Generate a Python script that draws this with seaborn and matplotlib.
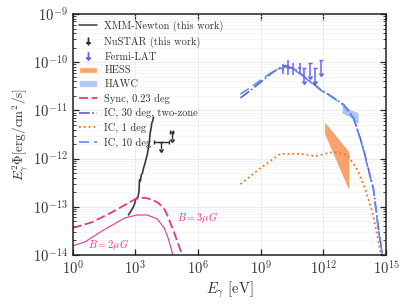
import numpy as np
import matplotlib
matplotlib.use("Agg")
import matplotlib.pyplot as plt
from matplotlib.lines import Line2D
from matplotlib.patches import Patch
import seaborn as sns

# ── data (log10 of energy in eV, log10 of flux in erg/cm2/s) ──
xmm_logE = [2.67, 2.80, 2.91, 2.97, 3.02, 3.12, 3.16, 3.18, 3.19, 3.20, 3.24, 3.28, 3.34, 3.39, 3.45, 3.50, 3.57, 3.63, 3.67, 3.71, 3.75, 3.79, 3.83, 3.87]
xmm_logF = [-13.17, -13.08, -13.00, -12.93, -12.84, -12.80, -12.72, -12.65, -12.50, -12.44, -12.47, -12.34, -12.30, -12.20, -12.12, -12.03, -11.92, -11.76, -11.65, -11.47, -11.38, -11.26, -11.22, -11.14]

nustar_logE = [4.22, 4.75]
nustar_logF = [-11.66, -11.45]
nustar_xlo = [3.87, 4.68]
nustar_xhi = [4.59, 4.82]

fermi_logE = [10.07, 10.33, 10.57, 10.86]
fermi_logF = [-10.14, -10.11, -10.14, -10.12]
fermi_err = [0.10, 0.16, 0.13, 0.11]
fermi_ul_logE = [11.09, 11.38, 11.62, 11.89]
fermi_ul_logF = [-10.12, -10.02, -10.12, -9.95]

hess_logE = [12.07, 13.20]
hess_lo = [-11.47, -12.61]
hess_hi = [-11.26, -11.86]

hawc_logE = [12.92, 13.26, 13.64]
hawc_lo = [-11.05, -11.12, -11.26]
hawc_hi = [-10.85, -10.99, -11.05]

sync3_logE = [0.0, 0.93, 1.89, 2.51, 2.99, 3.42, 3.80, 4.13, 4.42, 4.62, 4.86, 5.10, 5.29]
sync3_logF = [-13.44, -13.32, -13.11, -12.96, -12.84, -12.81, -12.85, -12.93, -13.07, -13.27, -13.54, -13.83, -14.06]

sync2_logE = [0.0, 0.59, 1.26, 1.89, 2.51, 3.08, 3.56, 4.04, 4.38, 4.57, 4.76, 4.81]
sync2_logF = [-13.81, -13.73, -13.54, -13.38, -13.23, -13.17, -13.17, -13.25, -13.44, -13.65, -13.94, -14.06]

ic10_logE = [8.03, 8.50, 8.98, 9.46, 9.85, 10.18, 10.66, 11.14, 11.62, 11.87, 12.40, 12.97, 13.44, 13.68, 13.92, 14.16, 14.40, 14.64, 14.79, 14.86]
ic10_logF = [-10.66, -10.53, -10.38, -10.23, -10.14, -10.10, -10.17, -10.33, -10.49, -10.58, -10.72, -10.89, -11.16, -11.47, -11.82, -12.24, -12.65, -13.48, -13.90, -14.15]

ic30_logE = [8.03, 8.50, 8.98, 9.46, 9.85, 10.18, 10.66, 11.14, 11.62, 11.87, 12.40, 12.97, 13.44, 13.68, 13.92, 14.16, 14.40, 14.64, 14.79, 14.86]
ic30_logF = [-10.74, -10.59, -10.42, -10.25, -10.13, -10.07, -10.15, -10.32, -10.48, -10.57, -10.71, -10.88, -11.15, -11.46, -11.80, -12.22, -12.63, -13.46, -13.88, -14.15]

ic1_logE = [8.03, 8.98, 9.94, 10.90, 11.62, 12.48, 13.16, 13.64, 14.02, 14.36, 14.60, 14.74, 14.83]
ic1_logF = [-12.53, -12.20, -11.90, -11.90, -11.95, -11.86, -11.93, -12.24, -12.65, -13.13, -13.63, -13.96, -14.20]

x_ticks = [1e0, 1e3, 1e6, 1e9, 1e12, 1e15]
y_ticks = [1e-14, 1e-13, 1e-12, 1e-11, 1e-10, 1e-9]

# ── style ──
sns.set_style("ticks")
plt.rcParams['font.family'] = ['cmr10', 'DejaVu Serif']
plt.rcParams['mathtext.fontset'] = 'cm'
plt.rcParams['axes.formatter.use_mathtext'] = True
plt.rcParams['axes.unicode_minus'] = False

c_sync = '#e6358b'
c_ic30 = '#6655e0'
c_ic10 = '#5b8ff0'
c_ic1 = '#f2711c'
c_fermi = '#7060ec'
c_xmm = '#3a3a45'
c_nu = '#2b2b35'
c_hess = '#f98c4a'
c_hawc = '#8fb0f0'
c_text = '#333333'

fig = plt.figure(figsize=(4.07, 3.05), dpi=100)
ax = fig.add_axes([0.1786, 0.164, 0.7698, 0.790])
ax.set_xscale('log')
ax.set_yscale('log')

p = lambda v: 10 ** np.array(v)

sns.lineplot(x=p(xmm_logE), y=p(xmm_logF), ax=ax, color=c_xmm, lw=1.2, sort=False)

ny = p(nustar_logF)
nx = p(nustar_logE)
ax.errorbar(nx, ny, yerr=ny * (1 - 10 ** -0.14),
            xerr=[nx - p(nustar_xlo), p(nustar_xhi) - nx],
            uplims=True, fmt='none', ecolor=c_nu, elinewidth=1.0, capsize=1.6)

fy = p(fermi_logF)
fx = p(fermi_logE)
ferr = np.array(fermi_err)
ax.errorbar(fx, fy, yerr=[fy * (1 - 10 ** -ferr), fy * (10 ** ferr - 1)],
            xerr=[fx * (1 - 10 ** -0.07), fx * (10 ** 0.07 - 1)],
            fmt='none', ecolor=c_fermi, elinewidth=1.1, capsize=0)
uy = p(fermi_ul_logF)
ax.errorbar(p(fermi_ul_logE), uy, yerr=uy * (1 - 10 ** -0.27), uplims=True,
            fmt='none', ecolor=c_fermi, elinewidth=1.1, capsize=1.6)

ax.fill_between(p(hess_logE), p(hess_lo), p(hess_hi), color=c_hess, alpha=0.8, lw=0.5)
ax.fill_between(p(hawc_logE), p(hawc_lo), p(hawc_hi), color=c_hawc, alpha=0.7, lw=0.5)

sns.lineplot(x=p(sync3_logE), y=p(sync3_logF), ax=ax, color=c_sync, lw=1.3,
             linestyle=(0, (5, 2)))
sns.lineplot(x=p(sync2_logE), y=p(sync2_logF), ax=ax, color=c_sync, lw=0.8)
sns.lineplot(x=p(ic30_logE), y=p(ic30_logF), ax=ax, color=c_ic30, lw=1.2,
             linestyle='-.')
sns.lineplot(x=p(ic1_logE), y=p(ic1_logF), ax=ax, color=c_ic1, lw=1.3,
             linestyle=':')
sns.lineplot(x=p(ic10_logE), y=p(ic10_logF), ax=ax, color=c_ic10, lw=1.2,
             linestyle=(0, (6, 3)))

ax.text(10 ** 5.0, 10 ** -13.23, r'$B = 3\mu G$', color=c_sync, fontsize=7.5,
        va='center', ha='left')
ax.text(10 ** 0.72, 10 ** -13.79, r'$B = 2\mu G$', color=c_sync, fontsize=7.5,
        va='center', ha='left')

ax.set_xlim(1e0, 1e15)
ax.set_ylim(1e-14, 1e-9)
ax.set_xticks(x_ticks)
ax.set_yticks(y_ticks)
ax.xaxis.set_minor_locator(matplotlib.ticker.NullLocator())
ax.yaxis.set_minor_locator(matplotlib.ticker.LogLocator(base=10.0, subs=np.arange(2, 10), numticks=20))
ax.yaxis.set_minor_formatter(matplotlib.ticker.NullFormatter())
ax.tick_params(which='both', direction='in', top=True, right=True, colors='#222222',
               labelcolor=c_text, labelsize=10.5)
ax.tick_params(which='major', length=4.5, width=0.9)
ax.tick_params(which='minor', length=2.2, width=0.6)
ax.grid(which='major', color='#e6e6e6', lw=0.5)
ax.grid(which='minor', axis='y', color='#f0f0f0', lw=0.4)
for s in ax.spines.values():
    s.set_linewidth(1.1)
    s.set_color('#222222')

ax.set_xlabel(r'$E_\gamma$ [eV]', fontsize=10.5, color=c_text, labelpad=1)
ax.set_ylabel(r'$E_\gamma^2\Phi[\mathrm{erg/cm^2/s}]$', fontsize=9.5, color=c_text, labelpad=1)

handles = [
    Line2D([], [], color=c_xmm, lw=1.1),
    Line2D([], [], color=c_nu, ls='none', marker=r'$\downarrow$', markersize=5),
    Line2D([], [], color=c_fermi, ls='none', marker=r'$\downarrow$', markersize=5.5),
    Patch(facecolor=c_hess, alpha=0.8),
    Patch(facecolor=c_hawc, alpha=0.7),
    Line2D([], [], color=c_sync, lw=1.3, ls=(0, (5, 2))),
    Line2D([], [], color=c_ic30, lw=1.2, ls='-.'),
    Line2D([], [], color=c_ic1, lw=1.3, ls=':'),
    Line2D([], [], color=c_ic10, lw=1.2, ls=(0, (6, 3))),
]
labels = ['XMM-Newton (this work)', 'NuSTAR (this work)', 'Fermi-LAT', 'HESS', 'HAWC',
          'Sync, 0.23 deg', 'IC, 30 deg, two-zone', 'IC, 1 deg', 'IC, 10 deg']
leg = ax.legend(handles, labels, loc='upper left', frameon=False, fontsize=7.5,
                handlelength=1.7, handleheight=0.6, labelspacing=0.42,
                borderaxespad=0.25, handletextpad=0.7)
for t in leg.get_texts():
    t.set_color(c_text)

fig.savefig('out.png', dpi=100)
